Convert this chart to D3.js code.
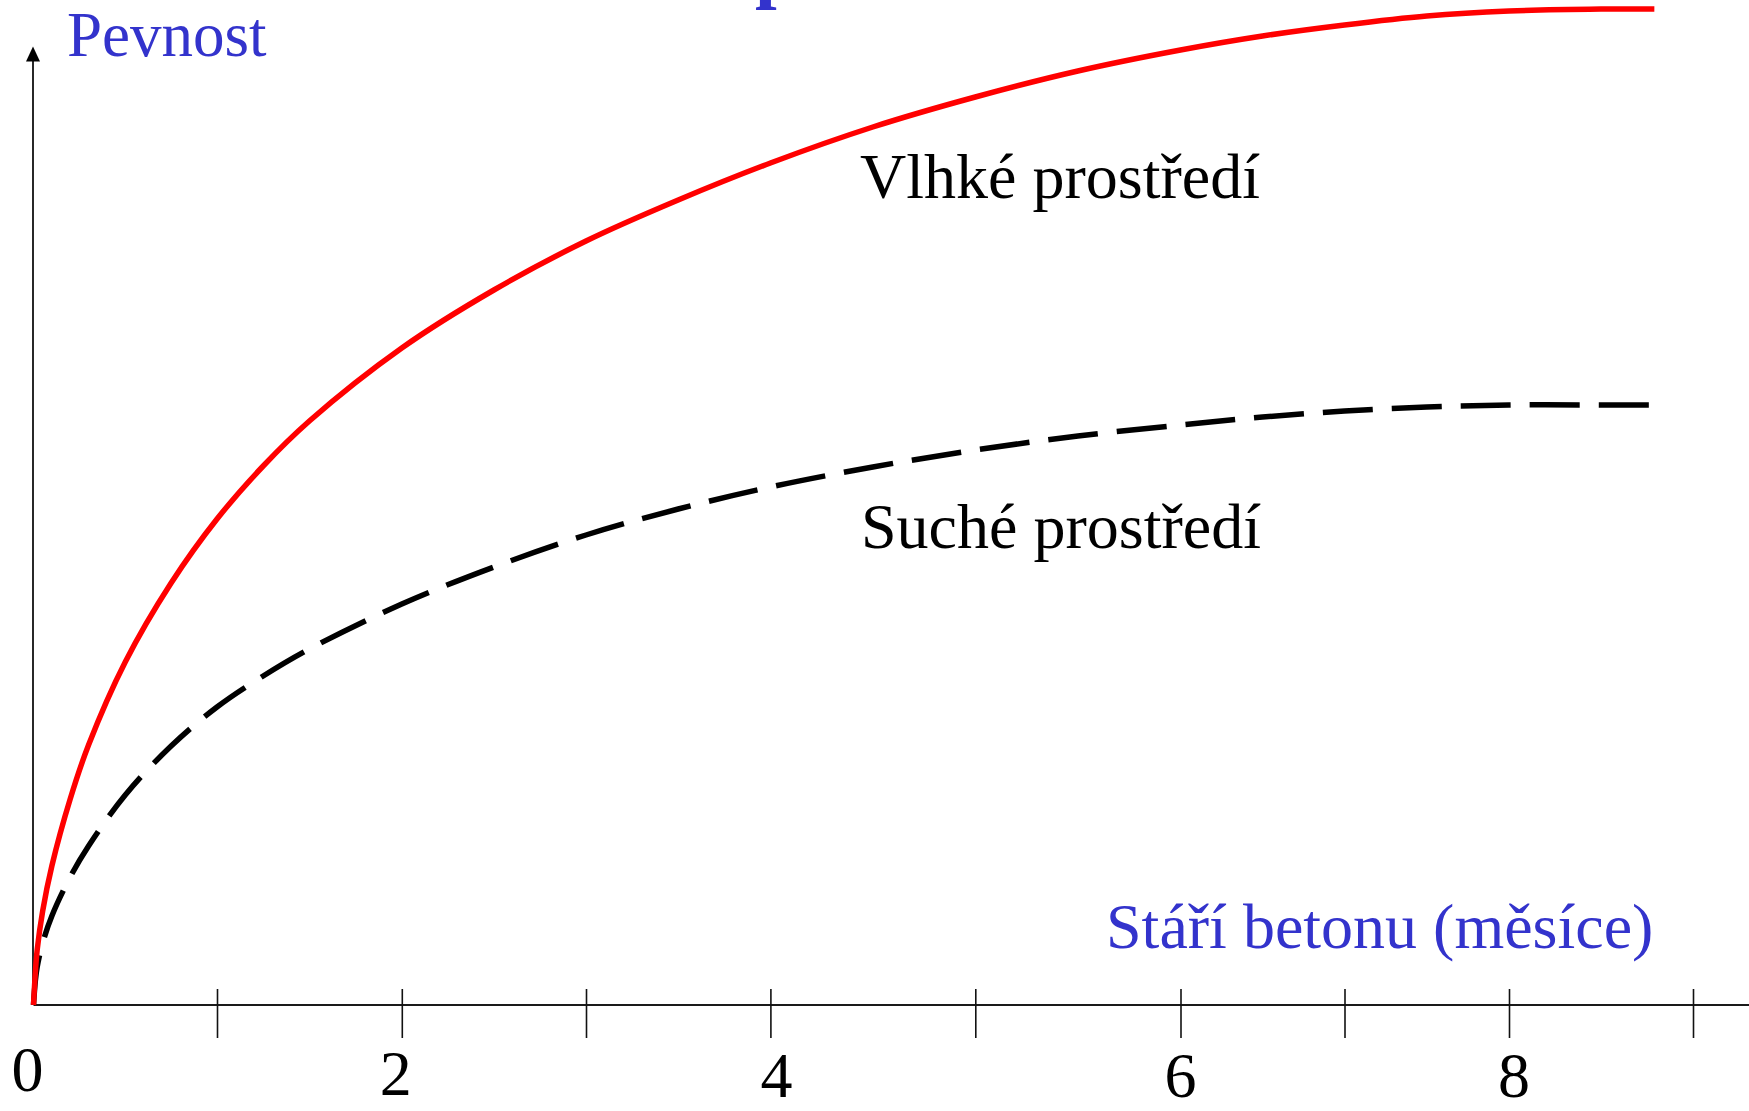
<!DOCTYPE html>
<html>
<head>
<meta charset="utf-8">
<script src="https://cdn.jsdelivr.net/npm/d3@7/dist/d3.min.js"></script>
<style>
  html, body { margin: 0; padding: 0; background: #fff; }
  svg { display: block; }
  text { font-family: "Liberation Serif", "Times New Roman", serif; }
</style>
</head>
<body>
<svg id="chart" width="1749" height="1111"></svg>
<script>
// ---- data (age of concrete in months, strength in relative units) ----
const months = [0, 0.01, 0.02, 0.05, 0.1, 0.2, 0.3, 0.5, 0.75, 1, 1.25, 1.5, 2, 2.5, 3, 3.5, 4, 4.5, 5, 5.5, 6, 6.5, 7, 7.5, 8, 8.5];
const wetStrength = [0, 3.2, 5.5, 9.4, 13.9, 20.6, 26.0, 34.3, 42.2, 48.6, 53.9, 58.4, 65.7, 71.5, 76.4, 80.5, 84.2, 87.8, 90.8, 93.4, 95.5, 96.9, 98.0, 98.9, 99.4, 99.6];
const dryStrength = [0, 2.4, 3.8, 6.2, 8.9, 12.8, 15.9, 21.0, 25.9, 29.8, 32.9, 35.6, 40.1, 43.8, 47.0, 49.6, 51.8, 53.8, 55.5, 56.9, 58.0, 58.8, 59.4, 59.8, 60.0, 60.0];
const wetEnd = [8.79, 99.6];
const dryEnd = [8.76, 60.0];
const tickValues = [1, 2, 3, 4, 5, 6, 7, 8, 9];
const tickLabelValues = [0, 2, 4, 6, 8];
const tickLabels = ["0", "2", "4", "6", "8"];
const yAxisLabel = "Pevnost";
const xAxisLabel = "Stáří betonu (měsíce)";
const wetLabel = "Vlhké prostředí";
const dryLabel = "Suché prostředí";
const titleFragment = "p";

// ---- layout ----
const svg = d3.select("#chart");
const blue = "#3333cc";
// the hand-drawn axis of the original has unevenly spaced ticks
const x = d3.scaleLinear()
  .domain([0, 1, 2, 3, 4, 5, 6, 7, 8, 9])
  .range([33.5, 217, 401.8, 586, 770.4, 975.3, 1180.5, 1344.5, 1509, 1693]);
const y = d3.scaleLinear().domain([0, 100]).range([1005, 5]);

// title fragment (cut off at the top edge, as in the original slide)
svg.append("text")
  .attr("x", 755).attr("y", -7)
  .attr("font-size", 78).attr("font-weight", "bold")
  .attr("fill", blue)
  .text(titleFragment);

// x axis line
svg.append("line")
  .attr("x1", x(0)).attr("x2", 1749)
  .attr("y1", y(0)).attr("y2", y(0))
  .attr("stroke", "#1a1a1a").attr("stroke-width", 2.2);

const xAxis = d3.axisBottom(x).tickValues(tickValues).tickFormat("").tickSizeOuter(0);
const gx = svg.append("g").attr("transform", `translate(0,${y(0)})`).call(xAxis);
gx.select(".domain").remove();
gx.selectAll(".tick line")
  .attr("y1", -16).attr("y2", 33)
  .attr("stroke", "#111").attr("stroke-width", 1.6);

// tick labels (baselines step down slightly to the right, as in the original)
const labelBaseline = [1091, 1095, 1097, 1097, 1097];
const labelShift = [-6, -6, 6, 0, 5];
svg.append("g").selectAll("text")
  .data(tickLabelValues)
  .join("text")
  .attr("x", (d, i) => x(d) + labelShift[i])
  .attr("y", (d, i) => labelBaseline[i])
  .attr("text-anchor", "middle")
  .attr("font-size", 64)
  .attr("fill", "#000")
  .text((d, i) => tickLabels[i]);

// y axis with arrow
const yTop = 46.5;
svg.append("line")
  .attr("x1", x(0) - 0.5).attr("x2", x(0) - 0.5)
  .attr("y1", y(0)).attr("y2", yTop + 12)
  .attr("stroke", "#111").attr("stroke-width", 1.8);
svg.append("path")
  .attr("d", d3.line()([[x(0) - 0.5, yTop], [x(0) - 7.5, yTop + 15], [x(0) + 6.5, yTop + 15]]) + "Z")
  .attr("fill", "#000");

// curves
const line = d3.line()
  .x(d => x(d[0]))
  .y(d => y(d[1]))
  .curve(d3.curveCatmullRom.alpha(0.5));

const dryPts = months.map((m, i) => [m, dryStrength[i]]).concat([dryEnd]);
const wetPts = months.map((m, i) => [m, wetStrength[i]]).concat([wetEnd]);

svg.append("path")
  .attr("d", line(dryPts))
  .attr("fill", "none")
  .attr("stroke", "#000")
  .attr("stroke-width", 5.5)
  .attr("stroke-dasharray", "50 19");

svg.append("path")
  .attr("d", line(wetPts))
  .attr("fill", "none")
  .attr("stroke", "#ff0000")
  .attr("stroke-width", 5.5);

// labels
svg.append("text")
  .attr("x", 67).attr("y", 56)
  .attr("font-size", 63).attr("fill", blue)
  .text(yAxisLabel);

svg.append("text")
  .attr("x", 1106).attr("y", 948)
  .attr("font-size", 64).attr("fill", blue)
  .text(xAxisLabel);

svg.append("text")
  .attr("x", 860).attr("y", 198)
  .attr("font-size", 64).attr("fill", "#000")
  .text(wetLabel);

svg.append("text")
  .attr("x", 861).attr("y", 548)
  .attr("font-size", 64).attr("fill", "#000")
  .text(dryLabel);
</script>
</body>
</html>
